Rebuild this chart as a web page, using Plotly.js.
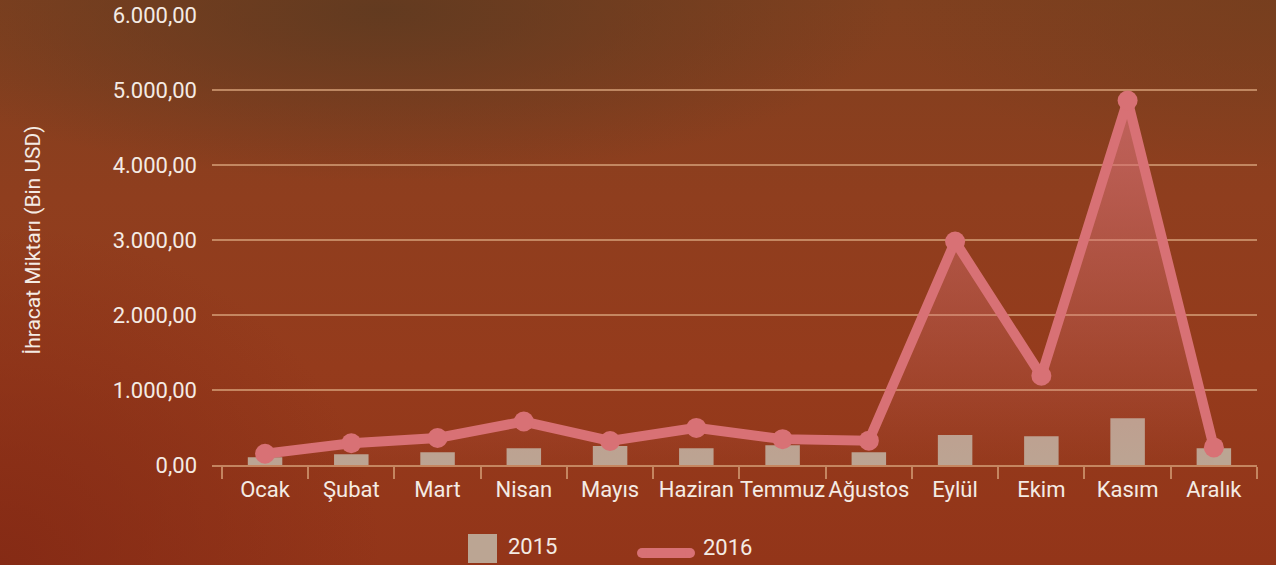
<!DOCTYPE html>
<html>
<head>
<meta charset="utf-8">
<script src="https://cdn.plot.ly/plotly-3.0.1.min.js"></script>
<style>
  html, body { margin: 0; padding: 0; }
  body {
    width: 1276px; height: 565px; overflow: hidden;
    background:
      radial-gradient(ellipse 40% 30% at 30% 2%, rgba(95,58,32,0.9) 0%, rgba(95,58,32,0) 100%),
      radial-gradient(ellipse 30% 30% at 100% 0%, rgba(115,62,30,0.7) 0%, rgba(115,62,30,0) 100%),
      radial-gradient(ellipse 30% 60% at 0% 100%, rgba(130,40,20,0.8) 0%, rgba(130,40,20,0) 100%),
      linear-gradient(to bottom, #80401f 0%, #8f3e1e 35%, #953b1c 65%, #933519 100%);
  }
  #chart { width: 1276px; height: 565px; }
</style>
</head>
<body>
<div id="chart"></div>
<script>
const months = ["Ocak", "Şubat", "Mart", "Nisan", "Mayıs", "Haziran", "Temmuz", "Ağustos", "Eylül", "Ekim", "Kasım", "Aralık"];
const values2015 = [105, 145, 170, 225, 255, 225, 265, 170, 400, 385, 625, 225];
const values2016 = [150, 290, 360, 580, 320, 495, 345, 325, 2980, 1190, 4860, 235];
const seriesNames = ["2015", "2016"];
const yTicks = [0, 1000, 2000, 3000, 4000, 5000, 6000];

const barColor = "#bba593";
const lineColor = "#d87175";
const gridColor = "rgba(214,160,120,0.75)";
const textColor = "#f4ebe4";
const fontFamily = "Roboto, sans-serif";

const traces = [
  {
    type: "bar",
    name: seriesNames[0],
    x: months,
    y: values2015,
    width: 0.4,
    marker: { color: barColor },
    showlegend: false,
    hoverinfo: "x+y"
  },
  {
    type: "scatter",
    mode: "lines+markers",
    name: seriesNames[1],
    x: months,
    y: values2016,
    line: { color: lineColor, width: 10 },
    marker: { color: lineColor, size: 20 },
    fill: "tozeroy",
    fillgradient: {
      type: "vertical",
      start: 0,
      stop: 4860,
      colorscale: [[0, "rgba(216,113,117,0.02)"], [1, "rgba(216,113,117,0.72)"]]
    },
    showlegend: false
  }
];

// paper-coordinate helpers for the custom legend
const L = 212, R = 1257, T = 15, B = 465;
const px = v => (v - L) / (R - L);
const py = v => (B - v) / (B - T);

const layout = {
  width: 1276,
  height: 565,
  paper_bgcolor: "rgba(0,0,0,0)",
  plot_bgcolor: "rgba(0,0,0,0)",
  margin: { l: L, r: 1276 - R, t: T, b: 565 - B },
  separators: ",.",
  font: { family: fontFamily, color: textColor, size: 22 },
  showlegend: false,
  xaxis: {
    type: "category",
    range: [-0.615, 11.5],
    tickson: "boundaries",
    ticks: "outside",
    ticklen: 12,
    tickwidth: 1.5,
    tickcolor: gridColor,
    tickangle: 0,
    ticklabelstandoff: 4,
    showline: true,
    linecolor: gridColor,
    linewidth: 1.5,
    showgrid: false,
    tickfont: { family: fontFamily, size: 22, color: textColor },
    fixedrange: true
  },
  yaxis: {
    range: [0, 6000],
    tickvals: yTicks,
    tickformat: ",.2f",
    showgrid: true,
    gridcolor: gridColor,
    gridwidth: 1.5,
    zeroline: false,
    showline: false,
    ticks: "",
    ticklabelstandoff: 14,
    tickfont: { family: fontFamily, size: 22, color: textColor },
    title: {
      text: "İhracat Miktarı (Bin USD)",
      font: { family: fontFamily, size: 21, color: textColor },
      standoff: 66
    },
    automargin: false,
    fixedrange: true
  },
  shapes: [
    {
      type: "rect", xref: "paper", yref: "paper",
      x0: px(468), x1: px(497), y0: py(563), y1: py(534),
      fillcolor: barColor, line: { width: 0 }
    },
    {
      type: "line", xref: "paper", yref: "paper",
      x0: px(642), x1: px(690), y0: py(553), y1: py(553),
      line: { color: lineColor, width: 10 }
    },
    {
      type: "circle", xref: "paper", yref: "paper",
      x0: px(637), x1: px(647), y0: py(558), y1: py(548),
      fillcolor: lineColor, line: { width: 0 }
    },
    {
      type: "circle", xref: "paper", yref: "paper",
      x0: px(685), x1: px(695), y0: py(558), y1: py(548),
      fillcolor: lineColor, line: { width: 0 }
    }
  ],
  annotations: [
    {
      xref: "paper", yref: "paper", x: px(506), y: py(546),
      xanchor: "left", yanchor: "middle", showarrow: false,
      text: seriesNames[0], font: { family: fontFamily, size: 22, color: textColor }
    },
    {
      xref: "paper", yref: "paper", x: px(701), y: py(547),
      xanchor: "left", yanchor: "middle", showarrow: false,
      text: seriesNames[1], font: { family: fontFamily, size: 22, color: textColor }
    }
  ]
};

Plotly.newPlot("chart", traces, layout, { displayModeBar: false, responsive: false });
</script>
</body>
</html>
